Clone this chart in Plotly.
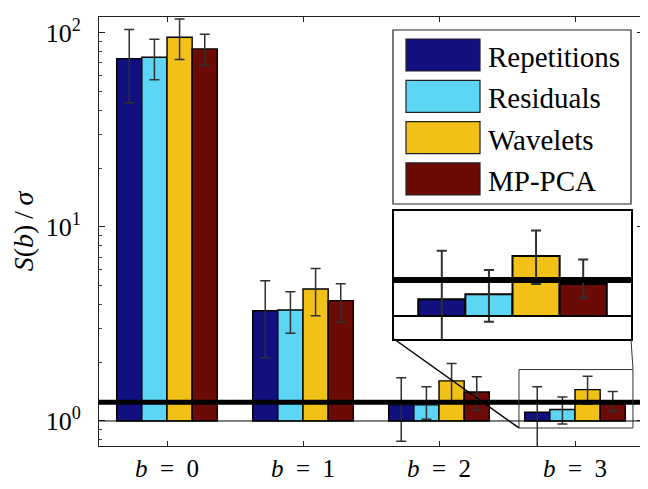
import plotly.graph_objects as go

# ---------------- data ----------------
category_labels = ["<i>b</i>\u2002=\u20020", "<i>b</i>\u2002=\u20021",
                   "<i>b</i>\u2002=\u20022", "<i>b</i>\u2002=\u20023"]
series_names = ["Repetitions", "Residuals", "Wavelets", "MP-PCA"]

repetitions = [73.7, 3.70, 1.21, 1.11]
repetitions_upper = [104.0, 5.28, 1.67, 1.50]
repetitions_lower = [43.7, 2.12, 0.785, 0.72]

residuals = [74.9, 3.73, 1.21, 1.145]
residuals_upper = [92.7, 4.64, 1.50, 1.33]
residuals_lower = [57.3, 2.83, 1.02, 0.965]

wavelets = [95.0, 4.79, 1.61, 1.45]
wavelets_upper = [118.0, 6.10, 1.98, 1.70]
wavelets_lower = [73.0, 3.49, 1.24, 1.22]

mppca = [82.7, 4.17, 1.41, 1.22]
mppca_upper = [98.5, 5.10, 1.69, 1.42]
mppca_lower = [68.0, 3.23, 1.135, 1.12]

baseline = 1.0
threshold = 1.25

y_tick_values = [1, 10, 100]
y_tick_labels = ["10<sup>0</sup>", "10<sup>1</sup>", "10<sup>2</sup>"]

# ---------------- style ----------------
colors = ["#10107e", "#5cd6f4", "#f2c118", "#6c0b06"]
FONT = "Liberation Serif"

values = [repetitions, residuals, wavelets, mppca]
uppers = [repetitions_upper, residuals_upper, wavelets_upper, mppca_upper]
lowers = [repetitions_lower, residuals_lower, wavelets_lower, mppca_lower]

fig = go.Figure()
for axes, lw, ew in [(("x", "y"), 1.4, 1.5), (("x2", "y2"), 2.0, 2.0)]:
    for name, vals, up, lo, col in zip(series_names, values, uppers, lowers, colors):
        fig.add_trace(go.Bar(
            x=category_labels,
            y=[v - baseline for v in vals],
            base=baseline,
            name=name,
            marker=dict(color=col, line=dict(color="black", width=lw)),
            error_y=dict(type="data", symmetric=False,
                         array=[u - v for u, v in zip(up, vals)],
                         arrayminus=[v - l for v, l in zip(vals, lo)],
                         color="#303030", thickness=ew, width=5),
            xaxis=axes[0], yaxis=axes[1],
            showlegend=False, hoverinfo="skip",
        ))

minor_vals = [m * 10 ** e for e in range(-1, 3) for m in range(2, 10)]

# page body adds an 8px offset; figure is sized so the plot area sits at
# x 99..643, y 17..446 of the window
fig.update_layout(
    template="none",
    width=640, height=481,
    margin=dict(l=91, r=5, t=9, b=43, autoexpand=False),
    paper_bgcolor="white", plot_bgcolor="white",
    barmode="group", bargap=0.26, bargroupgap=0,
    font=dict(family=FONT, color="black", size=26),
    xaxis=dict(
        type="category", categoryorder="array", categoryarray=category_labels,
        range=[-0.5, 3.5], showgrid=False, zeroline=False, automargin=False,
        showline=True, linecolor="#202020", linewidth=1, mirror="ticks",
        ticks="inside", ticklen=5, tickcolor="#202020",
        tickfont=dict(family=FONT, size=25),
        ticklabelstandoff=0,
    ),
    yaxis=dict(
        type="log", range=[-0.129, 2.082], automargin=False,
        tickvals=y_tick_values, ticktext=y_tick_labels,
        showgrid=False, zeroline=False,
        showline=True, linecolor="#202020", linewidth=1, mirror="ticks",
        ticks="inside", ticklen=6, tickcolor="#202020",
        tickfont=dict(family=FONT, size=26),
        ticklabelstandoff=12,
        minor=dict(tickvals=minor_vals, ticks="inside", ticklen=3,
                   tickcolor="#404040", showgrid=False),
        title=dict(text="<i>S</i>(<i>b</i>)\u2009/\u2009<i>σ</i>",
                   font=dict(family=FONT, size=28)),
    ),
    xaxis2=dict(
        type="category", categoryorder="array", categoryarray=category_labels,
        domain=[0.5423, 0.9779], anchor="y2", range=[2.535, 3.465],
        showgrid=False, zeroline=False, showticklabels=False, ticks="",
        showline=True, linecolor="black", linewidth=2, mirror=True,
    ),
    yaxis2=dict(
        type="log", domain=[0.2494, 0.5478], anchor="x2", range=[-0.062, 0.283],
        showgrid=False, zeroline=False, showticklabels=False, ticks="",
        showline=True, linecolor="black", linewidth=2, mirror=True,
    ),
)

shapes = []
# main baseline and threshold lines
shapes.append(dict(type="line", xref="x domain", yref="y", x0=0, x1=1,
                   y0=baseline, y1=baseline, line=dict(color="black", width=1)))
shapes.append(dict(type="line", xref="x domain", yref="y", x0=0, x1=1,
                   y0=threshold, y1=threshold, line=dict(color="black", width=5)))
# inset baseline and threshold
shapes.append(dict(type="line", xref="x2 domain", yref="y2", x0=0, x1=1,
                   y0=baseline, y1=baseline, line=dict(color="black", width=2)))
shapes.append(dict(type="line", xref="x2 domain", yref="y2", x0=0, x1=1,
                   y0=threshold, y1=threshold, line=dict(color="black", width=6)))
# zoom rectangle around b=3
shapes.append(dict(type="rect", xref="x", yref="y", x0=2.588, x1=3.426,
                   y0=0.92, y1=1.84, line=dict(color="#303030", width=1)))
# connector lines
shapes.append(dict(type="line", xref="paper", yref="paper",
                   x0=0.5423, y0=0.2494, x1=0.772, y1=0.042,
                   line=dict(color="black", width=1.5)))
shapes.append(dict(type="line", xref="paper", yref="paper",
                   x0=0.9779, y0=0.2494, x1=0.9816, y1=0.1795,
                   line=dict(color="#303030", width=1)))

# manual legend
def px_x(px):
    return (px - 99) / 544.0

def px_y(py):
    return (446 - py) / 429.0

shapes.append(dict(type="rect", xref="paper", yref="paper",
                   x0=px_x(393), x1=px_x(631), y0=px_y(204), y1=px_y(30),
                   line=dict(color="#202020", width=1.2), fillcolor="white"))
annotations = []
for i, (name, col) in enumerate(zip(series_names, colors)):
    top = 39 + 41.3 * i
    shapes.append(dict(type="rect", xref="paper", yref="paper",
                       x0=px_x(406), x1=px_x(480), y0=px_y(top + 32), y1=px_y(top),
                       line=dict(color="#202020", width=1.2), fillcolor=col))
    annotations.append(dict(xref="paper", yref="paper", x=px_x(486), y=px_y(top + 18),
                            xanchor="left", yanchor="middle", showarrow=False,
                            text=name, font=dict(family=FONT, size=29, color="black")))

fig.update_layout(shapes=shapes, annotations=annotations)

fig.write_html("out.html")
